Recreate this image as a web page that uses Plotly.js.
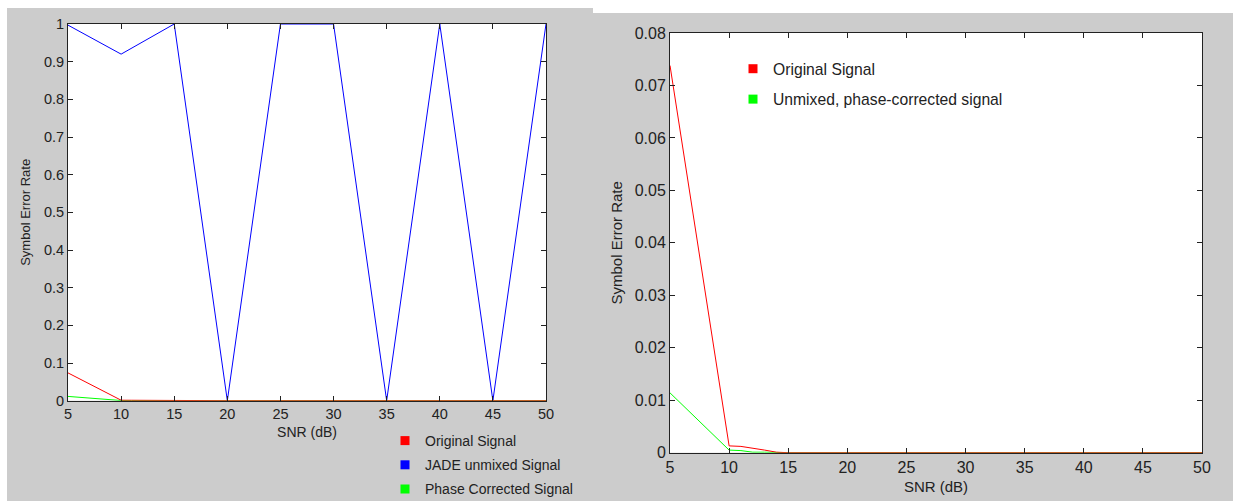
<!DOCTYPE html>
<html>
<head>
<meta charset="utf-8">
<script src="https://cdn.plot.ly/plotly-3.0.1.min.js"></script>
<style>html,body{margin:0;padding:0;background:#fff;overflow:hidden;}#chart{width:1233px;height:501px;}</style>
</head>
<body>
<div id="chart"></div>
<script>
// ---- data ----
const snrCoarse = [5, 10, 15, 20, 25, 30, 35, 40, 45, 50];
const jadeSer   = [0.997, 0.920, 1, 0, 1, 1, 0, 1, 0, 1];

const snrFine   = [5, 10, 11, 12, 13, 14, 15, 20, 25, 30, 35, 40, 45, 50];
const origSer   = [0.0738, 0.0013, 0.0012, 0.0009, 0.0005, 0.0001, 0, 0, 0, 0, 0, 0, 0, 0];
const phaseSer  = [0.0114, 0.0005, 0.0004, 0.0001, 0.0001, 0, 0, 0, 0, 0, 0, 0, 0, 0];

const leftNames  = ['Original Signal', 'JADE unmixed Signal', 'Phase Corrected Signal'];
const rightNames = ['Original Signal', 'Unmixed, phase-corrected signal'];
const RED = '#ff0000', BLUE = '#0000ff', GREEN = '#00ff00';

const FONT = 'Liberation Sans, Arial, Helvetica, sans-serif';
const TXT = '#222222';
const GRAY = '#cccccc';

function line(x, y, color, xa, ya) {
  return {x: x, y: y, mode: 'lines', line: {color: color, width: 1}, xaxis: xa, yaxis: ya,
          showlegend: false, hoverinfo: 'x+y', cliponaxis: false};
}
function swatch(name, color, xa, ya, leg, grp) {
  return {x: [null], y: [null], mode: 'markers', name: name, legend: leg, legendgroup: grp,
          marker: {symbol: 'square', size: 9, color: color, line: {width: 0}},
          xaxis: xa, yaxis: ya, showlegend: true, hoverinfo: 'skip'};
}

const data = [
  line(snrCoarse, jadeSer, BLUE, 'x', 'y'),
  line(snrFine, phaseSer, GREEN, 'x', 'y'),
  line(snrFine, origSer, RED, 'x', 'y'),
  line(snrFine, phaseSer, GREEN, 'x2', 'y2'),
  line(snrFine, origSer, RED, 'x2', 'y2'),
  swatch(leftNames[0], RED, 'x', 'y', 'legend', 'a'),
  swatch(leftNames[1], BLUE, 'x', 'y', 'legend', 'b'),
  swatch(leftNames[2], GREEN, 'x', 'y', 'legend', 'c'),
  swatch(rightNames[0], RED, 'x2', 'y2', 'legend2', 'd'),
  swatch(rightNames[1], GREEN, 'x2', 'y2', 'legend2', 'e')
];

function axis(fs, extra) {
  return Object.assign({
    showline: true, linecolor: '#222', linewidth: 1, mirror: 'ticks',
    ticks: 'inside', ticklen: 5, tickcolor: '#222', tickwidth: 1,
    showgrid: false, zeroline: false, fixedrange: true,
    tickfont: {family: FONT, size: fs, color: TXT}
  }, extra);
}

const W = 1233, H = 501;
const px = v => v / W, py = v => 1 - v / H;

const layout = {
  width: W, height: H,
  margin: {l: 0, r: 0, t: 0, b: 0, autoexpand: false},
  paper_bgcolor: '#ffffff',
  plot_bgcolor: '#ffffff',
  font: {family: FONT, size: 14, color: TXT},
  xaxis: axis(14.5, {domain: [px(68), px(546)], anchor: 'y', range: [5, 50], tick0: 5, dtick: 5,
    title: {text: 'SNR (dB)', font: {family: FONT, size: 14, color: TXT}, standoff: 6}}),
  yaxis: axis(14.5, {domain: [py(400.7), py(24)], anchor: 'x', range: [0, 1], tick0: 0, dtick: 0.1,
    title: {text: 'Symbol Error Rate', font: {family: FONT, size: 13, color: TXT}, standoff: 10}}),
  xaxis2: axis(16, {domain: [px(670), px(1202)], anchor: 'y2', range: [5, 50], tick0: 5, dtick: 5,
    title: {text: 'SNR (dB)', font: {family: FONT, size: 15, color: TXT}, standoff: 6}}),
  yaxis2: axis(16, {domain: [py(452.7), py(33)], anchor: 'x2', range: [0, 0.08], tick0: 0, dtick: 0.01,
    title: {text: 'Symbol Error Rate', font: {family: FONT, size: 15, color: TXT}, standoff: 8}}),
  legend: {x: px(385), y: py(425), xanchor: 'left', yanchor: 'top', bgcolor: 'rgba(0,0,0,0)',
    borderwidth: 0, traceorder: 'grouped', tracegroupgap: 3,
    font: {family: FONT, size: 14, color: TXT}},
  legend2: {x: px(733), y: py(52), xanchor: 'left', yanchor: 'top', bgcolor: 'rgba(0,0,0,0)',
    borderwidth: 0, traceorder: 'grouped', tracegroupgap: 7,
    font: {family: FONT, size: 15.7, color: TXT}},
  shapes: [
    {type: 'rect', xref: 'paper', yref: 'paper', x0: px(7), x1: px(593), y0: 0, y1: py(8),
     fillcolor: GRAY, line: {width: 0}, layer: 'below'},
    {type: 'rect', xref: 'paper', yref: 'paper', x0: px(593), x1: 1, y0: 0, y1: py(13),
     fillcolor: GRAY, line: {width: 0}, layer: 'below'},
    {type: 'rect', xref: 'x domain', yref: 'y domain', x0: 0, x1: 1, y0: 0, y1: 1,
     fillcolor: '#ffffff', line: {width: 0}, layer: 'below'},
    {type: 'rect', xref: 'x2 domain', yref: 'y2 domain', x0: 0, x1: 1, y0: 0, y1: 1,
     fillcolor: '#ffffff', line: {width: 0}, layer: 'below'}
  ]
};

Plotly.newPlot('chart', data, layout, {displayModeBar: false, staticPlot: true});
</script>
</body>
</html>
